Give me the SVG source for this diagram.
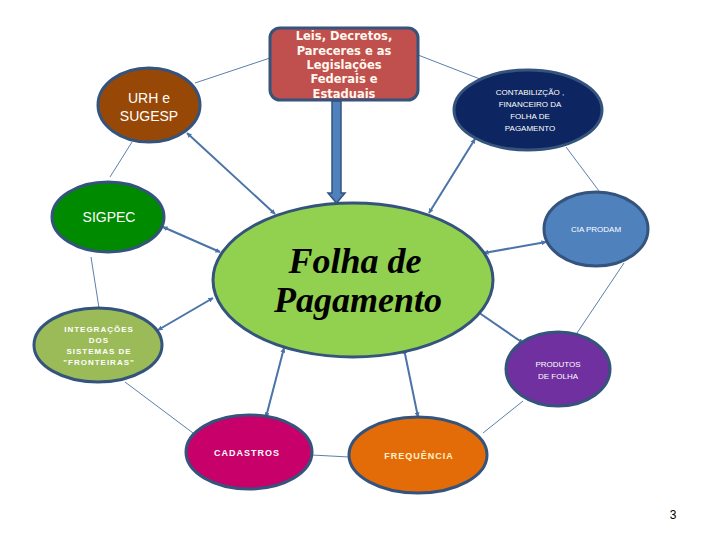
<svg xmlns="http://www.w3.org/2000/svg" width="720" height="540" viewBox="0 0 720 540">
<defs>
<style>
.node{stroke:#34537d;stroke-width:3}
.thin{stroke:#5b7fae;stroke-width:1;fill:none}
.arr{stroke:#4a73a8;stroke-width:2;fill:none;marker-start:url(#ah);marker-end:url(#ah)}
.t{fill:#ffffff;text-anchor:middle;font-family:"Liberation Sans",Arial,sans-serif}
.s{font-family:"DejaVu Sans",Verdana,sans-serif}
</style>
<marker id="ah" viewBox="0 0 10 10" refX="9" refY="5" markerWidth="2.5" markerHeight="2.5" orient="auto-start-reverse" markerUnits="strokeWidth">
<path d="M0,0 L10,5 L0,10 z" fill="#4a73a8"/>
</marker>
</defs>
<rect width="720" height="540" fill="#ffffff"/>
<g id="connectors">
<line class="thin" x1="195" y1="83" x2="270" y2="58"/>
<line class="thin" x1="418" y1="55" x2="480" y2="79"/>
<line class="thin" x1="566" y1="147" x2="599" y2="191"/>
<line class="thin" x1="624" y1="263" x2="577" y2="333"/>
<line class="thin" x1="523" y1="401" x2="483" y2="433"/>
<line class="thin" x1="312" y1="455" x2="349" y2="457"/>
<line class="thin" x1="125" y1="382" x2="193" y2="433"/>
<line class="thin" x1="91" y1="257" x2="99" y2="308"/>
<line class="thin" x1="110" y1="177" x2="132" y2="142"/>
<line class="arr" x1="187" y1="133" x2="275" y2="214"/>
<line class="arr" x1="475" y1="139" x2="429" y2="213"/>
<line class="arr" x1="163" y1="227" x2="220" y2="252"/>
<line class="arr" x1="158" y1="330" x2="213" y2="298"/>
<line class="arr" x1="546" y1="242" x2="484" y2="253"/>
<line class="arr" x1="475" y1="310" x2="523" y2="343"/>
<line class="arr" x1="284" y1="348" x2="266" y2="417"/>
<line class="arr" x1="404" y1="349" x2="418" y2="417"/>
<path d="M332,101 L341,101 L341,193 L345,193 L336.5,203 L328,193 L332,193 Z" fill="#4f81bd" stroke="#34537d" stroke-width="1.5"/>
</g>
<g id="center">
<ellipse class="node" cx="353" cy="280" rx="140" ry="77" fill="#92d050"/>
<text x="355" y="273" text-anchor="middle" font-family="'Liberation Serif',serif" font-weight="bold" font-style="italic" font-size="36" fill="#000">Folha de</text>
<text x="358" y="312" text-anchor="middle" font-family="'Liberation Serif',serif" font-weight="bold" font-style="italic" font-size="36" fill="#000">Pagamento</text>
</g>
<g id="leis">
<rect class="node" x="270" y="28" width="148" height="72" rx="10" fill="#c0504d"/>
<text class="t s" font-size="11.5" font-weight="bold" style="fill:#fff8ee"><tspan x="344" y="40">Leis, Decretos,</tspan><tspan x="344" y="55">Pareceres e as</tspan><tspan x="344" y="69">Legislações</tspan><tspan x="344" y="83">Federais e</tspan><tspan x="344" y="98">Estaduais</tspan></text>
</g>
<g id="urh">
<ellipse class="node" cx="149" cy="105" rx="51" ry="37" fill="#974806"/>
<text class="t" font-size="14"><tspan x="149" y="103">URH e</tspan><tspan x="149" y="121">SUGESP</tspan></text>
</g>
<g id="contab">
<ellipse class="node" cx="528" cy="110" rx="74" ry="40" fill="#0d2560"/>
<text class="t" font-size="8"><tspan x="530" y="95">CONTABILIZÇÃO ,</tspan><tspan x="530" y="107">FINANCEIRO  DA</tspan><tspan x="530" y="119">FOLHA DE</tspan><tspan x="530" y="131">PAGAMENTO</tspan></text>
</g>
<g id="sigpec">
<ellipse class="node" cx="108" cy="217" rx="56" ry="35" fill="#008a00"/>
<text class="t" font-size="14" x="109" y="222">SIGPEC</text>
</g>
<g id="prodam">
<ellipse class="node" cx="596" cy="229" rx="52" ry="37" fill="#4f81bd"/>
<text class="t" font-size="8" x="596" y="232">CIA PRODAM</text>
</g>
<g id="integracoes">
<ellipse class="node" cx="98" cy="345" rx="64" ry="37" fill="#9bbb59"/>
<text class="t" font-size="8" font-weight="bold" letter-spacing="1"><tspan x="99" y="332">INTEGRAÇÕES</tspan><tspan x="99" y="343">DOS</tspan><tspan x="99" y="354">SISTEMAS DE</tspan><tspan x="99" y="365">"FRONTEIRAS"</tspan></text>
</g>
<g id="produtos">
<ellipse class="node" cx="558" cy="369" rx="52" ry="37" fill="#7030a0"/>
<text class="t" font-size="8"><tspan x="558" y="367">PRODUTOS</tspan><tspan x="558" y="379">DE FOLHA</tspan></text>
</g>
<g id="cadastros">
<ellipse class="node" cx="249" cy="452" rx="63" ry="37" fill="#c8006a"/>
<text class="t" font-size="9" font-weight="bold" letter-spacing="1" x="247" y="456">CADASTROS</text>
</g>
<g id="frequencia">
<ellipse class="node" cx="418" cy="455" rx="69" ry="38" fill="#e36c09"/>
<text class="t" font-size="9" font-weight="bold" letter-spacing="1" x="419" y="459" style="fill:#fff2cc">FREQUÊNCIA</text>
</g>
<text x="673" y="519" text-anchor="middle" font-family="'Liberation Sans',Arial,sans-serif" font-size="12" fill="#000">3</text>
</svg>
